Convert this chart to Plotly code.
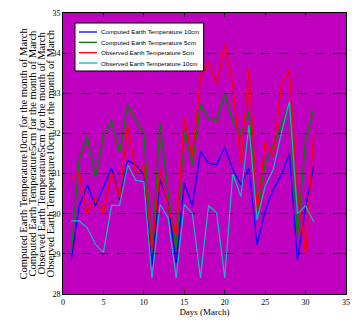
import plotly.graph_objects as go

days = list(range(1, 32))
computed_10cm = [28.83, 30.19, 30.73, 30.19, 30.66, 31.14, 30.36, 31.33, 31.22, 30.98,
                 28.70, 30.85, 30.27, 28.78, 30.77, 30.19, 31.55, 31.26, 31.22, 31.66,
                 31.10, 30.72, 31.14, 29.23, 30.06, 30.60, 30.96, 31.50, 28.85, 30.17, 31.17]
computed_5cm = [29.00, 31.35, 31.93, 30.92, 31.93, 32.32, 31.53, 32.71, 32.34, 32.00,
                29.03, 32.26, 30.52, 29.10, 32.09, 31.22, 32.72, 32.38, 32.30, 33.00,
                32.30, 31.96, 32.55, 29.98, 31.26, 31.70, 32.20, 32.75, 29.43, 31.83, 32.60]
observed_5cm = [30.83, 31.02, 30.00, 30.40, 30.00, 31.02, 30.40, 32.21, 31.03, 31.22,
                29.10, 31.10, 30.19, 29.45, 32.38, 31.43, 33.38, 33.79, 33.23, 34.22,
                33.20, 31.28, 33.62, 30.02, 31.80, 31.45, 33.22, 33.58, 30.59, 29.01, 31.98]
observed_10cm = [29.82, 29.82, 29.65, 29.24, 29.03, 30.21, 30.21, 31.22, 30.83, 30.80,
                 28.40, 30.23, 29.90, 28.40, 30.23, 30.00, 28.40, 30.20, 30.02, 28.40,
                 31.00, 30.43, 32.20, 29.85, 30.68, 31.10, 32.00, 32.79, 30.00, 30.20, 29.80]

legend_names = ["Computed Earth Temperature 10cm", "Computed Earth Temperature 5cm",
                "Observed Earth Temperature 5cm", "Observed Earth Temperature 10cm"]
ylabel_lines = ["Computed Earth Temperature10cm for the month of March",
                "Computed Earth Temperature5cm for the month of March",
                "Observed Earth Temperature5cm for the month of March",
                "Observed Earth Temperature10cm for the month of March"]
x_ticks = [0, 5, 10, 15, 20, 25, 30, 35]
y_ticks = [28, 29, 30, 31, 32, 33, 34, 35]

series = [computed_10cm, computed_5cm, observed_5cm, observed_10cm]
colors = ["#0000FF", "#008000", "#FF0000", "#00BFBF"]
widths = [1.3, 1.5, 1.5, 1.2]

fig = go.Figure()
for name, vals, c, w in zip(legend_names, series, colors, widths):
    fig.add_trace(go.Scatter(x=days, y=vals, mode="lines", name=name,
                             line=dict(color=c, width=w), showlegend=False))

serif = "Liberation Serif, Times New Roman, serif"
sans = "Liberation Sans, Arial, sans-serif"

fig.update_layout(
    width=364, height=320,
    margin=dict(l=63, r=18, t=13, b=26),
    paper_bgcolor="white",
    plot_bgcolor="#BF00BF",
    showlegend=False,
    xaxis=dict(range=[0, 35], tickvals=x_ticks, showgrid=False, zeroline=False,
               automargin=False,
               showline=True, linecolor="black", linewidth=1, mirror="ticks",
               ticks="inside", ticklen=4, tickcolor="black",
               tickfont=dict(family=serif, size=8, color="black"),
               title=dict(text="Days (March)", font=dict(family=serif, size=9, color="black"),
                          standoff=2)),
    yaxis=dict(range=[28, 35], tickvals=y_ticks, showgrid=True, gridcolor="black",
               griddash="dash", gridwidth=1, zeroline=False, automargin=False,
               showline=True, linecolor="black", linewidth=1, mirror="ticks",
               ticks="inside", ticklen=4, tickcolor="black",
               tickfont=dict(family=serif, size=8, color="black")),
)

# y-axis label: four rotated lines
xshifts = [-40, -31, -22, -13]
for txt, xs in zip(ylabel_lines, xshifts):
    fig.add_annotation(text=txt, xref="paper", yref="paper", x=0, y=0.5,
                       xanchor="center", yanchor="middle", xshift=xs,
                       textangle=-90, showarrow=False,
                       font=dict(family=serif, size=10.6, color="black"))

# compact legend box (drawn manually to match the reference's tight rows)
fig.add_shape(type="rect", xref="paper", yref="paper", x0=0.0424, x1=0.497,
              y0=0.7936, y1=0.9644, fillcolor="white",
              line=dict(color="black", width=1), layer="above")
for i, (name, c) in enumerate(zip(legend_names, colors)):
    yy = 0.9324 - i * 0.0368
    fig.add_shape(type="line", xref="paper", yref="paper", x0=0.0565, x1=0.1201,
                  y0=yy, y1=yy, line=dict(color=c, width=1.3), layer="above")
    fig.add_annotation(text=name, xref="paper", yref="paper", x=0.127, y=yy,
                       xanchor="left", yanchor="middle", showarrow=False,
                       font=dict(family=sans, size=6.2, color="black"))

fig.write_html("out.html", config={"displayModeBar": False},
               post_script="document.body.style.margin='0';document.body.style.overflow='hidden';")
